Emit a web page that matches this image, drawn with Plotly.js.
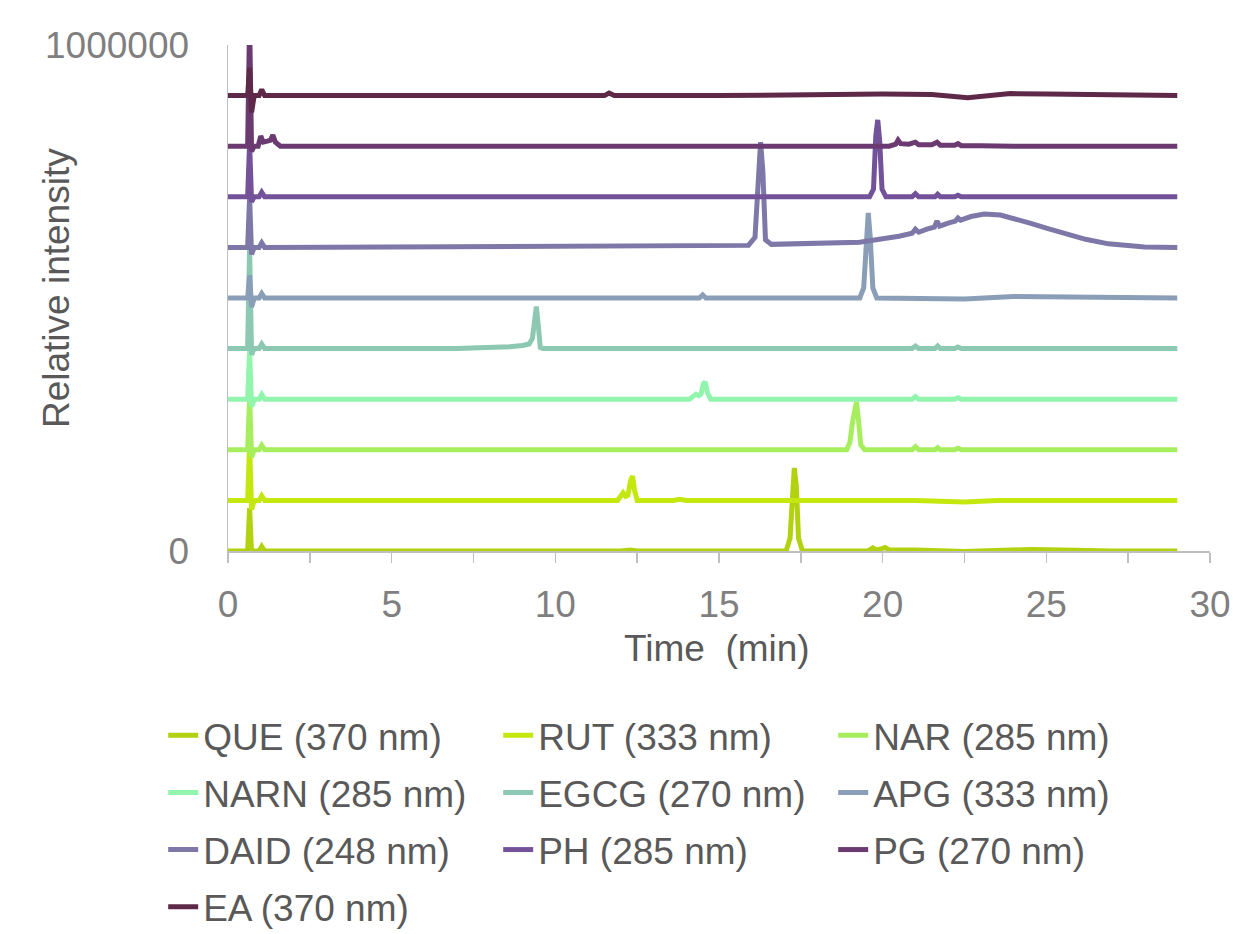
<!DOCTYPE html>
<html>
<head>
<meta charset="utf-8">
<script src="https://cdn.plot.ly/plotly-3.0.1.min.js"></script>
<style>html,body{margin:0;padding:0;background:#fff;}#chart{width:1233px;height:934px;}</style>
</head>
<body>
<div id="chart"></div>
<script>
// Series names (legend labels)
const names = ["QUE (370 nm)", "RUT (333 nm)", "NAR (285 nm)", "NARN (285 nm)", "EGCG (270 nm)",
               "APG (333 nm)", "DAID (248 nm)", "PH (285 nm)", "PG (270 nm)", "EA (370 nm)"];
const colors = ["#b2d10e", "#c4e80e", "#a7ee5f", "#92f5ae", "#8dc8b2",
                "#8a9fb7", "#7e78a8", "#73529a", "#6a3a70", "#5e2848"];
// vertical offset of each chromatogram (stacked display)
const offsets = [0, 100000, 200000, 300000, 400000, 500000, 600000, 700000, 800000, 900000];

// Time (min) and signal (relative intensity above own baseline) per series
const QUE_t = [0, 0.6, 0.66, 0.72, 0.8, 0.95, 1.03, 1.12, 12.0, 12.3, 12.5, 17.05, 17.17, 17.24, 17.3, 17.36, 17.43, 17.55, 19.55, 19.7, 19.82, 19.95, 20.07, 20.2, 21.0, 22.5, 23.5, 24.5, 25.5, 27.0, 29.0];
const QUE_v = [0, 0, 85000, -5000, 0, 0, 9000, 0, 0, 2000, 0, 0, 25000, 130000, 164000, 130000, 25000, 0, 0, 6000, 2000, 4000, 7000, 2000, 2000, -1000, 2000, 3000, 2000, 0, 0];

const RUT_t = [0, 0.6, 0.66, 0.72, 0.8, 0.95, 1.03, 1.12, 11.9, 12.0, 12.07, 12.15, 12.22, 12.3, 12.36, 12.42, 12.5, 13.6, 13.8, 14.0, 21.0, 22.5, 23.5, 29.0];
const RUT_v = [0, 0, 113000, -18000, 0, 0, 9000, 0, 0, 8000, 15000, 8000, 10000, 40000, 48000, 20000, 0, 0, 2000, 0, 0, -3000, 0, 0];

const NAR_t = [0, 0.6, 0.66, 0.72, 0.8, 0.95, 1.03, 1.12, 18.9, 19.0, 19.08, 19.15, 19.2, 19.26, 19.33, 19.45, 20.9, 21.0, 21.1, 21.6, 21.68, 21.76, 22.2, 22.3, 22.4, 29.0];
const NAR_v = [0, 0, 104000, -15000, 0, 0, 9000, 0, 0, 15000, 55000, 88000, 95000, 60000, 10000, 0, 0, 6000, 0, 0, 4000, 0, 0, 3000, 0, 0];

const NARN_t = [0, 0.6, 0.66, 0.72, 0.8, 0.95, 1.03, 1.12, 14.1, 14.22, 14.3, 14.38, 14.45, 14.52, 14.58, 14.65, 14.75, 20.9, 21.0, 21.1, 22.2, 22.3, 22.4, 29.0];
const NARN_v = [0, 0, 95000, -15000, 0, 0, 9000, 0, 0, 8000, 10000, 7000, 10000, 30000, 34000, 12000, 0, 0, 5000, 0, 0, 3000, 0, 0];

const EGCG_t = [0, 0.6, 0.66, 0.72, 0.8, 0.95, 1.03, 1.12, 7.0, 8.0, 8.6, 9.0, 9.2, 9.3, 9.36, 9.42, 9.48, 9.54, 9.62, 12.2, 12.3, 12.4, 20.9, 21.0, 21.1, 21.6, 21.68, 21.76, 22.2, 22.3, 22.4, 29.0];
const EGCG_v = [0, 0, 200000, -12000, 0, 0, 9000, 0, 0, 1500, 3500, 6000, 9000, 20000, 60000, 83000, 45000, 2000, 0, 0, 2000, 0, 0, 5000, 0, 0, 5000, 0, 0, 3000, 0, 0];

const APG_t = [0, 0.6, 0.66, 0.72, 0.8, 0.95, 1.03, 1.12, 14.4, 14.5, 14.6, 19.3, 19.42, 19.5, 19.56, 19.62, 19.7, 19.82, 21.0, 22.5, 24.0, 25.5, 27.0, 29.0];
const APG_v = [0, 0, 45000, -18000, 0, 0, 9000, 0, 0, 6000, 0, 0, 20000, 120000, 168000, 120000, 20000, 0, 0, -2000, 3000, 2000, 0, 0];

const DAID_t = [0, 0.6, 0.66, 0.72, 0.8, 0.95, 1.03, 1.12, 5, 10, 15.9, 16.1, 16.2, 16.27, 16.34, 16.42, 16.6, 18, 19.3, 20.5, 20.9, 21.0, 21.1, 21.35, 21.58, 21.66, 21.74, 22.0, 22.22, 22.3, 22.38, 22.7, 23.1, 23.6, 24.0, 24.5, 25.0, 25.4, 25.8, 26.2, 26.9, 27.5, 28.0, 29.0];
const DAID_v = [0, 0, 100000, -14000, 0, 0, 9000, 0, 1000, 2000, 4000, 20000, 150000, 208000, 150000, 15000, 6000, 8000, 10000, 22000, 28000, 36000, 30000, 36000, 40000, 52000, 42000, 48000, 52000, 58000, 54000, 61000, 66000, 64000, 58000, 48000, 38000, 30000, 23000, 16000, 7000, 3000, 1000, 0];

const PH_t = [0, 0.6, 0.66, 0.72, 0.8, 0.95, 1.03, 1.12, 19.6, 19.72, 19.79, 19.85, 19.91, 19.98, 20.1, 20.9, 21.0, 21.1, 21.6, 21.68, 21.76, 22.2, 22.3, 22.4, 29.0];
const PH_v = [0, 0, 107000, -10000, 0, 0, 9000, 0, 0, 15000, 120000, 152000, 110000, 15000, 0, 0, 6000, 0, 0, 5000, 0, 0, 3000, 0, 0];

const PG_t = [0, 0.6, 0.66, 0.72, 0.8, 0.92, 1.0, 1.08, 1.2, 1.3, 1.37, 1.45, 1.6, 20.2, 20.4, 20.47, 20.55, 20.8, 21.0, 21.1, 21.5, 21.66, 21.76, 22.2, 22.3, 22.4, 23, 24, 29];
const PG_v = [0, 0, 250000, -10000, 0, 0, 20000, 8000, 10000, 12000, 22000, 8000, 0, 0, 4000, 12000, 5000, 4000, 8000, 3000, 3000, 8000, 2000, 2000, 5000, 1000, 1000, 0, 0];

const EA_t = [0, 0.6, 0.66, 0.72, 0.8, 0.95, 1.03, 1.12, 11.5, 11.64, 11.8, 15, 20, 21.5, 22.6, 23.9, 25.0, 27.0, 29.0];
const EA_v = [0, 0, 55000, -33000, 0, 0, 12000, 0, 0, 5000, 0, 0, 3000, 2000, -4000, 4000, 3000, 1000, 0];

const seriesT = [QUE_t, RUT_t, NAR_t, NARN_t, EGCG_t, APG_t, DAID_t, PH_t, PG_t, EA_t];
const seriesV = [QUE_v, RUT_v, NAR_v, NARN_v, EGCG_v, APG_v, DAID_v, PH_v, PG_v, EA_v];

const yTickVals = [0, 1000000];
const yTickText = ["0", "1000000"];
const xTickVals = [0, 5, 10, 15, 20, 25, 30];

const FONT = "Liberation Sans, Arial, sans-serif";
const FS = 37;

const traces = names.map((n, i) => ({
  type: "scatter",
  mode: "lines",
  name: n,
  legendgroup: "g" + i,
  x: seriesT[i],
  y: seriesV[i].map(v => v + offsets[i]),
  line: {color: colors[i], width: 5, shape: "linear"},
  hoverinfo: "skip"
}));

const layout = {
  width: 1233,
  height: 934,
  margin: {l: 228, r: 23, t: 45, b: 383, pad: 0, autoexpand: false},
  paper_bgcolor: "#ffffff",
  plot_bgcolor: "#ffffff",
  font: {family: FONT, size: FS, color: "#595959"},
  showlegend: true,
  xaxis: {
    range: [0, 30],
    tickvals: xTickVals,
    ticks: "outside",
    ticklen: 10,
    tickwidth: 1.5,
    tickcolor: "#bfbfbf",
    minor: {dtick: 2.5, tick0: 0, ticks: "outside", ticklen: 10, tickwidth: 1.5, tickcolor: "#bfbfbf", showgrid: false},
    showline: true,
    linecolor: "#bfbfbf",
    linewidth: 1.5,
    showgrid: false,
    zeroline: false,
    automargin: false,
    tickfont: {family: FONT, size: FS, color: "#7f7f7f"},
    ticklabelstandoff: 10,
    fixedrange: true
  },
  yaxis: {
    range: [0, 1000000],
    tickvals: yTickVals,
    ticktext: yTickText,
    ticks: "",
    showline: true,
    linecolor: "#bfbfbf",
    linewidth: 1.5,
    showgrid: false,
    zeroline: false,
    automargin: false,
    tickfont: {family: FONT, size: FS, color: "#7f7f7f"},
    ticklabelstandoff: 30,
    fixedrange: true
  },
  legend: {
    orientation: "h",
    x: -0.066,
    xanchor: "left",
    y: -0.304,
    yanchor: "top",
    entrywidth: 290,
    entrywidthmode: "pixels",
    font: {family: FONT, size: FS, color: "#595959"},
    bgcolor: "rgba(0,0,0,0)",
    itemwidth: 30,
    traceorder: "grouped",
    tracegroupgap: 6
  },
  annotations: [
    {text: "Relative intensity", textangle: -90, xref: "paper", yref: "paper",
     x: -0.174, y: 0.52, xanchor: "center", yanchor: "middle", showarrow: false,
     font: {family: FONT, size: FS, color: "#595959"}},
    {text: "Time\u00a0 (min)", xref: "paper", yref: "paper",
     x: 0.498, y: -0.192, xanchor: "center", yanchor: "middle", showarrow: false,
     font: {family: FONT, size: FS, color: "#595959"}}
  ]
};

Plotly.newPlot("chart", traces, layout, {displayModeBar: false, staticPlot: true});
</script>
</body>
</html>
